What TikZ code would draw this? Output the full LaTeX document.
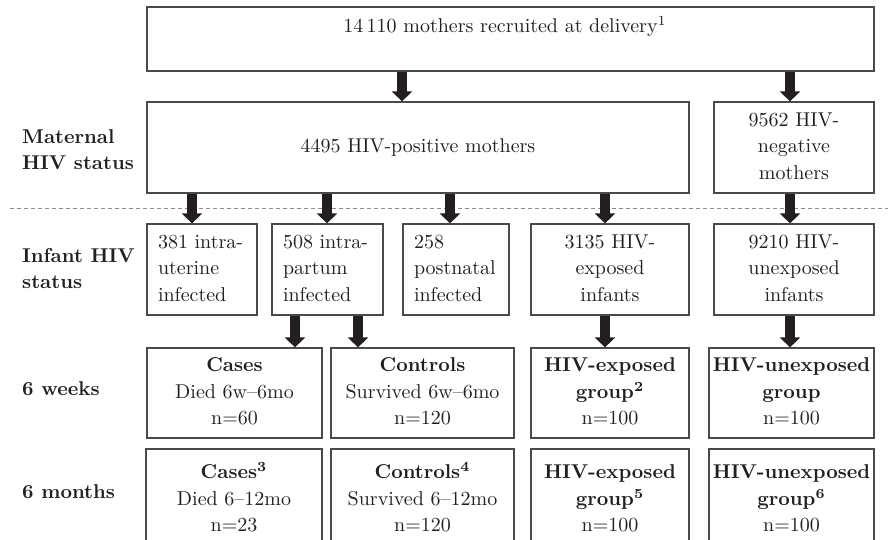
\documentclass[tikz,border=0pt]{standalone}
\usepackage{graphicx}
\usetikzlibrary{arrows.meta}
\definecolor{ink}{HTML}{231F20}
\definecolor{frame}{HTML}{4A4A4A}
\definecolor{dashgray}{HTML}{8C8C8C}
\newcommand\txt[2][c]{\scalebox{2}{\fontsize{10}{13.2}\selectfont\begin{tabular}{@{}#1@{}}#2\end{tabular}}}
\newcommand\one[1]{\scalebox{2}{\fontsize{10}{13.2}\selectfont #1}}
\begin{document}
\begin{tikzpicture}[x=1pt,y=-1pt,
  every node/.style={text=ink},
  box/.style={draw=frame, line width=1.2pt, inner sep=0pt, align=center},
  lbox/.style={draw=frame, line width=1.2pt, inner xsep=11pt, inner ysep=0pt, align=left},
  fat/.style={draw=ink, line width=10pt, -{Triangle[width=20pt,length=10pt]}},
  sidelab/.style={anchor=west, inner sep=0pt}
]
\useasboundingbox (0,0) rectangle (888,540);
% dashed separator
\coordinate (dl) at (10,208);
\coordinate (dr) at (888,208);
\draw[draw=dashgray, line width=0.8pt, dash pattern=on 4pt off 3pt] (dl) -- (dr);

% top box
\node[box, minimum width=727pt, minimum height=64pt] (top) at (510.5,39) {};
\node[anchor=base, inner sep=0pt] (toptxt) at (505,33) {\one{14\,110 mothers recruited at delivery\textsuperscript{1}}};

% maternal row
\node[box, minimum width=542pt, minimum height=91pt] (pos) at (418,147.5) {\txt{4495 HIV-positive mothers}};
\node[box, minimum width=160pt, minimum height=91pt] (neg) at (794,147.5) {\txt{9562 HIV-\\negative\\mothers}};

% infant row
\node[lbox, text width=88pt, minimum height=91pt] (i1) at (202,269.5) {\txt[l]{381 intra-\\uterine\\infected}};
\node[lbox, text width=89pt, minimum height=91pt] (i2) at (327.5,269.5) {\txt[l]{508 intra-\\partum\\infected}};
\node[lbox, text width=84pt, minimum height=91pt] (i3) at (456,269.5) {\txt[l]{258\\postnatal\\infected}};
\node[box, minimum width=158pt, minimum height=91pt] (i4) at (610,269.5) {\txt{3135 HIV-\\exposed\\infants}};
\node[box, minimum width=160pt, minimum height=91pt] (i5) at (794,269.5) {\txt{9210 HIV-\\unexposed\\infants}};

% 6 weeks row
\node[box, minimum width=175pt, minimum height=90pt] (w1) at (234.5,393) {\txt{\textbf{Cases}\\Died 6w--6mo\\n=60}};
\node[box, minimum width=183pt, minimum height=90pt] (w2) at (422.5,393) {\txt{\textbf{Controls}\\Survived 6w--6mo\\n=120}};
\node[box, minimum width=158pt, minimum height=90pt] (w3) at (610,393) {\txt{\textbf{HIV-exposed}\\\textbf{group\textsuperscript{2}}\\n=100}};
\node[box, minimum width=165pt, minimum height=90pt] (w4) at (791.5,393) {\txt{\textbf{HIV-unexposed}\\\textbf{group}\\n=100}};

% 6 months row
\node[box, minimum width=176pt, minimum height=102pt] (m1) at (234,500) {\txt{\textbf{Cases\textsuperscript{3}}\\Died 6--12mo\\n=23}};
\node[box, minimum width=183pt, minimum height=102pt] (m2) at (422.5,500) {\txt{\textbf{Controls\textsuperscript{4}}\\Survived 6--12mo\\n=120}};
\node[box, minimum width=158pt, minimum height=102pt] (m3) at (610,500) {\txt{\textbf{HIV-exposed}\\\textbf{group\textsuperscript{5}}\\n=100}};
\node[box, minimum width=165pt, minimum height=102pt] (m4) at (791.5,500) {\txt{\textbf{HIV-unexposed}\\\textbf{group\textsuperscript{6}}\\n=100}};

% side labels
\node[sidelab] (lab1) at (22,151) {\txt[l]{\textbf{Maternal}\\\textbf{HIV status}}};
\node[sidelab] (lab2) at (22,270) {\txt[l]{\textbf{Infant HIV}\\\textbf{status}}};
\node[sidelab, anchor=base west] (lab3) at (22,395) {\one{\textbf{6 weeks}}};
\node[sidelab, anchor=base west] (lab4) at (22,498) {\one{\textbf{6 months}}};

% arrow columns
\coordinate (xa) at (402,0);
\coordinate (xb) at (790,0);
\coordinate (xc) at (192,0);
\coordinate (xd) at (327,0);
\coordinate (xe) at (450,0);
\coordinate (xf) at (605,0);
\coordinate (xg) at (295,0);
\coordinate (xh) at (358,0);

\draw[fat] (top.south -| xa) -- (pos.north -| xa);
\draw[fat] (top.south -| xb) -- (neg.north -| xb);
\draw[fat] (pos.south -| xc) -- (i1.north -| xc);
\draw[fat] (pos.south -| xd) -- (i2.north -| xd);
\draw[fat] (pos.south -| xe) -- (i3.north -| xe);
\draw[fat] (pos.south -| xf) -- (i4.north -| xf);
\draw[fat] (neg.south -| xb) -- (i5.north -| xb);
\draw[fat] (i2.south -| xg) -- (w1.north -| xg);
\draw[fat] (i2.south -| xh) -- (w2.north -| xh);
\draw[fat] (i4.south -| xf) -- (w3.north -| xf);
\draw[fat] (i5.south -| xb) -- (w4.north -| xb);
\end{tikzpicture}
\end{document}
